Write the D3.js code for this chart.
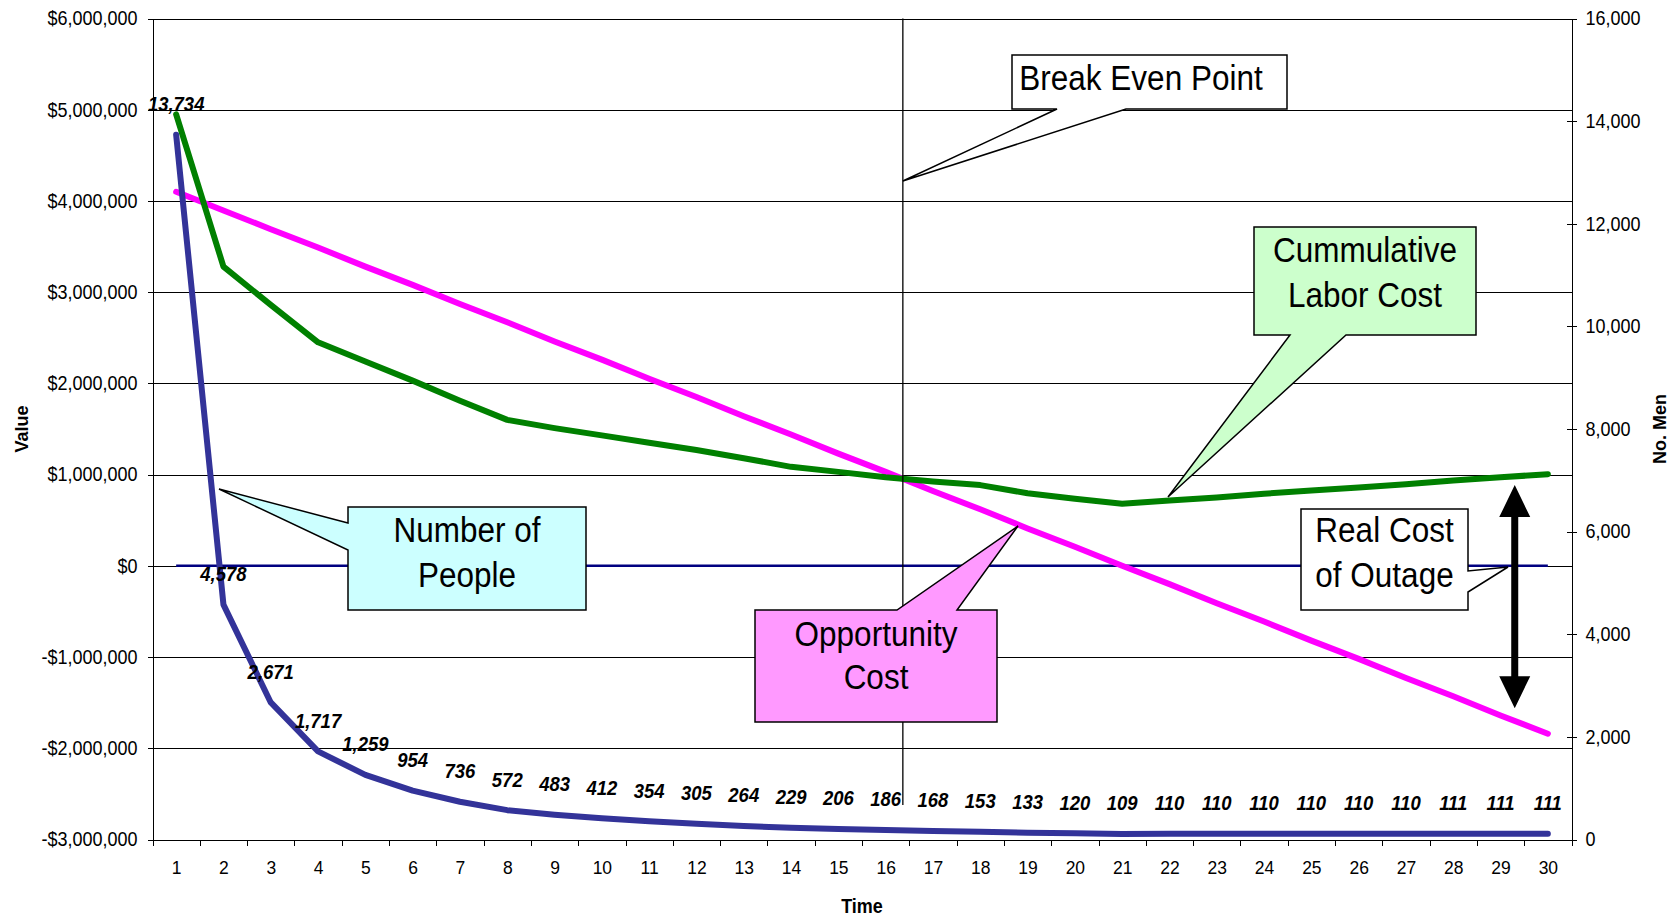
<!DOCTYPE html>
<html>
<head>
<meta charset="utf-8">
<script src="https://cdn.jsdelivr.net/npm/d3@7"></script>
<style>
  html, body { margin: 0; padding: 0; background: #fff; }
  svg { display: block; font-family: "Liberation Sans", Arial, Helvetica, sans-serif; }
</style>
</head>
<body>
<svg id="chart" width="1679" height="917"></svg>
<script>
// ---- data -------------------------------------------------------------
const categories = [1, 2, 3, 4, 5, 6, 7, 8, 9, 10, 11, 12, 13, 14, 15,
                    16, 17, 18, 19, 20, 21, 22, 23, 24, 25, 26, 27, 28, 29, 30];

// headcount per period (right axis)
const numberOfPeople = [13734, 4578, 2671, 1717, 1259, 954, 736, 572, 483, 412,
                        354, 305, 264, 229, 206, 186, 168, 153, 133, 120,
                        109, 110, 110, 110, 110, 110, 110, 111, 111, 111];

// cumulative labour cost in dollars (left axis)
const laborCost = [4950000, 3280000, 2860000, 2450000, 2240000, 2030000, 1810000, 1600000, 1510000, 1430000,
                   1350000, 1270000, 1180000, 1085000, 1030000, 970000, 925000, 885000, 795000, 735000,
                   680000, 715000, 750000, 790000, 825000, 860000, 895000, 935000, 970000, 1005000];

// opportunity cost in dollars (left axis)
const opportunityCost = [4100000, 3895000, 3690000, 3490000, 3280000, 3080000, 2870000, 2670000, 2460000, 2260000,
                         2050000, 1850000, 1640000, 1440000, 1230000, 1030000, 820000, 620000, 410000, 210000,
                         0, -200000, -410000, -610000, -820000, -1020000, -1230000, -1430000, -1640000, -1840000];

// zero reference series
const zeroLine = [0, 0, 0, 0, 0, 0, 0, 0, 0, 0, 0, 0, 0, 0, 0,
                  0, 0, 0, 0, 0, 0, 0, 0, 0, 0, 0, 0, 0, 0, 0];

const valueTicks = [-3000000, -2000000, -1000000, 0, 1000000, 2000000, 3000000, 4000000, 5000000, 6000000];
const menTicks = [0, 2000, 4000, 6000, 8000, 10000, 12000, 14000, 16000];

// gap between labour cost and opportunity cost near the end of the period
const outageGap = { at: 29.3, top: 885000, bottom: -1560000 };

// ---- layout -----------------------------------------------------------
const svg = d3.select("#chart");
const plot = { left: 152.5, right: 1571.5, top: 18.5, bottom: 839.5 };
const STRETCH = 1.1;   // text is drawn slightly tall

const x = d3.scaleLinear().domain([0.5, 30.5]).range([plot.left, plot.right]);
const yL = d3.scaleLinear().domain([-3000000, 6000000]).range([plot.bottom, plot.top]);
const yR = d3.scaleLinear().domain([0, 16000]).range([plot.bottom, plot.top]);

svg.append("rect").attr("width", 1679).attr("height", 917).attr("fill", "#fff");

const money = d3.format(",.0f");
const fmtMoney = v => (v < 0 ? "-$" + money(-v) : "$" + money(v));

// horizontal gridlines
svg.append("g")
  .attr("transform", `translate(${plot.left},0)`)
  .call(d3.axisLeft(yL).tickValues(valueTicks).tickSize(-(plot.right - plot.left)).tickFormat(""))
  .call(g => g.select(".domain").remove())
  .call(g => g.selectAll("line").attr("stroke", "#000").attr("stroke-width", 1).attr("shape-rendering", "crispEdges"));

// left axis
svg.append("g")
  .attr("transform", `translate(${plot.left},0)`)
  .call(d3.axisLeft(yL).tickValues(valueTicks).tickSize(5).tickSizeOuter(0).tickPadding(10).tickFormat(fmtMoney))
  .call(g => g.selectAll("path,line").attr("stroke", "#000").attr("shape-rendering", "crispEdges"))
  .call(g => g.selectAll("text")
    .attr("fill", "#000").attr("font-size", 18)
    .attr("font-family", '"Liberation Sans", Arial, sans-serif')
    .attr("transform", `scale(1,${STRETCH})`));

// right axis
svg.append("g")
  .attr("transform", `translate(${plot.right},0)`)
  .call(d3.axisRight(yR).tickValues(menTicks).tickSize(5).tickSizeOuter(0).tickPadding(9).tickFormat(d3.format(",")))
  .call(g => g.selectAll("line").attr("x1", -5))
  .call(g => g.selectAll("path,line").attr("stroke", "#000").attr("shape-rendering", "crispEdges"))
  .call(g => g.selectAll("text")
    .attr("fill", "#000").attr("font-size", 18)
    .attr("font-family", '"Liberation Sans", Arial, sans-serif')
    .attr("transform", `scale(1,${STRETCH})`));

// bottom axis: tick marks between categories
const boundaries = d3.range(0.5, 31, 1);
svg.append("g")
  .attr("transform", `translate(0,${plot.bottom})`)
  .call(d3.axisBottom(x).tickValues(boundaries).tickSize(6).tickSizeOuter(0).tickFormat(""))
  .call(g => g.selectAll("path,line").attr("stroke", "#000").attr("shape-rendering", "crispEdges"));

// bottom axis: category labels
svg.append("g")
  .attr("transform", `translate(0,${plot.bottom})`)
  .call(d3.axisBottom(x).tickValues(categories).tickSize(0).tickPadding(19).tickFormat(d3.format("d")))
  .call(g => g.select(".domain").remove())
  .call(g => g.selectAll("text")
    .attr("fill", "#000").attr("font-size", 17.5)
    .attr("font-family", '"Liberation Sans", Arial, sans-serif')
    .attr("transform", `scale(1,${STRETCH})`));

// axis titles
svg.append("text")
  .attr("transform", `translate(22,${(plot.top + plot.bottom) / 2}) rotate(-90)`)
  .attr("text-anchor", "middle").attr("dominant-baseline", "central")
  .attr("font-size", 18).attr("font-weight", "bold").text("Value");
svg.append("text")
  .attr("transform", `translate(1660,${(plot.top + plot.bottom) / 2}) rotate(-90)`)
  .attr("text-anchor", "middle").attr("dominant-baseline", "central")
  .attr("font-size", 18).attr("font-weight", "bold").text("No. Men");

function tallText(parent, cx, cy, str, size, opts = {}) {
  const g = parent.append("g").attr("transform", `translate(${cx},${cy}) scale(1,${opts.stretch || STRETCH})`);
  g.append("text")
    .attr("x", 0).attr("y", 0)
    .attr("text-anchor", "middle").attr("dominant-baseline", "central")
    .attr("font-size", size)
    .attr("font-weight", opts.weight || "normal")
    .attr("font-style", opts.style || "normal")
    .attr("fill", "#000")
    .text(str);
  return g;
}

tallText(svg, (plot.left + plot.right) / 2, 906, "Time", 18, { weight: "bold" });

// ---- series -----------------------------------------------------------
const lineL = d3.line().x((d, i) => x(categories[i])).y(d => yL(d));
const lineR = d3.line().x((d, i) => x(categories[i])).y(d => yR(d));

svg.append("path").datum(zeroLine).attr("d", lineL)
  .attr("fill", "none").attr("stroke", "#000080").attr("stroke-width", 2.5);

svg.append("path").datum(opportunityCost).attr("d", lineL)
  .attr("fill", "none").attr("stroke", "#FF00FF").attr("stroke-width", 6)
  .attr("stroke-linecap", "round").attr("stroke-linejoin", "round");

svg.append("path").datum(laborCost).attr("d", lineL)
  .attr("fill", "none").attr("stroke", "#008000").attr("stroke-width", 6)
  .attr("stroke-linecap", "round").attr("stroke-linejoin", "round");

svg.append("path").datum(numberOfPeople).attr("d", lineR)
  .attr("fill", "none").attr("stroke", "#333399").attr("stroke-width", 6)
  .attr("stroke-linecap", "round").attr("stroke-linejoin", "round");

// headcount labels above each point
const labelLayer = svg.append("g");
const fmtCount = d3.format(",");
numberOfPeople.forEach((v, i) => {
  tallText(labelLayer, x(categories[i]), yR(v) - 31, fmtCount(v), 18.5,
           { weight: "bold", style: "italic", stretch: 1.12 });
});

// ---- break-even marker (where labour cost meets opportunity cost) ----
let breakEven = null;
for (let i = 0; i < categories.length - 1 && !breakEven; i++) {
  const d0 = opportunityCost[i] - laborCost[i];
  const d1 = opportunityCost[i + 1] - laborCost[i + 1];
  if (d0 >= 0 && d1 < 0) {
    const t = d0 / (d0 - d1);
    breakEven = categories[i] + t;
  }
}
const breakX = x(breakEven);
svg.append("line")
  .attr("x1", breakX).attr("x2", breakX)
  .attr("y1", plot.top).attr("y2", 805)
  .attr("stroke", "#000").attr("stroke-width", 1.3);

// ---- gap arrow ---------------------------------------------------------
(function drawGapArrow() {
  const ax = x(outageGap.at);
  const yt = yL(outageGap.top), yb = yL(outageGap.bottom);
  const headW = 15.5, headL = 32, shaft = 3.5;
  const p = [
    [ax, yt], [ax + headW, yt + headL], [ax + shaft, yt + headL],
    [ax + shaft, yb - headL], [ax + headW, yb - headL], [ax, yb],
    [ax - headW, yb - headL], [ax - shaft, yb - headL],
    [ax - shaft, yt + headL], [ax - headW, yt + headL]
  ];
  svg.append("path").attr("d", "M" + p.join("L") + "Z").attr("fill", "#000");
})();

// ---- callouts ----------------------------------------------------------
const callouts = svg.append("g");
function callout(d, fill, lines, cx, cys) {
  callouts.append("path").attr("d", d)
    .attr("fill", fill).attr("stroke", "#000").attr("stroke-width", 1.5)
    .attr("stroke-linejoin", "miter");
  lines.forEach((t, i) => tallText(callouts, cx, cys[i], t, 31.5, { stretch: 1.1 }));
}

callout(`M1012,55H1287V109H1126L${breakX},181L1057,109H1012Z`,
        "#FFFFFF", ["Break Even Point"], 1141, [78]);

callout("M348,507H586V610H348V550L219,489L348,523Z",
        "#CCFFFF", ["Number of", "People"], 467, [530, 575]);

callout("M755,610H897L1018,526L957,610H997V722H755Z",
        "#FF99FF", ["Opportunity", "Cost"], 876, [634, 677]);

callout("M1254,227H1476V335H1346L1168,497L1290,335H1254Z",
        "#CCFFCC", ["Cummulative", "Labor Cost"], 1365, [250, 295]);

callout("M1301,509H1468V571L1508,567L1468,592V610H1301Z",
        "#FFFFFF", ["Real Cost", "of Outage"], 1384.5, [530, 575]);
</script>
</body>
</html>
